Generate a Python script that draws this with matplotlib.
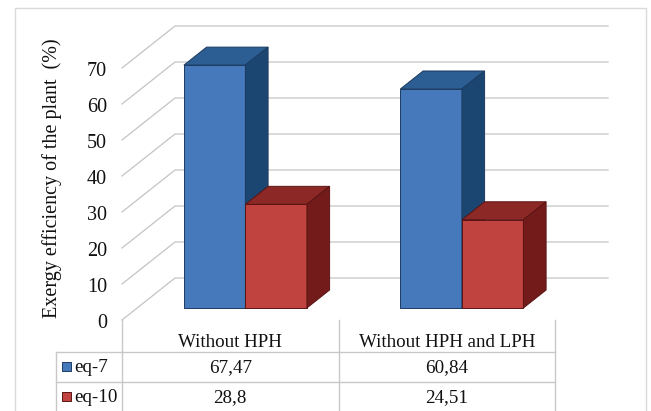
import matplotlib
matplotlib.use("Agg")
import matplotlib.pyplot as plt
from matplotlib.patches import Polygon, Rectangle

# ---- data ----
categories = ["Without HPH", "Without HPH and LPH"]
series_names = ["eq-7", "eq-10"]
eq7 = [67.47, 60.84]
eq10 = [28.8, 24.51]
y_ticks = [0, 10, 20, 30, 40, 50, 60, 70]
y_label = "Exergy efficiency of the plant  (%)"

plt.rcParams["font.family"] = ["Liberation Serif", "DejaVu Serif"]

W, H = 651, 411
fig = plt.figure(figsize=(W / 100, H / 100), dpi=100)

# overlay in pixel units for the frame and the data table
ov = fig.add_axes([0, 0, 1, 1])
ov.set_xlim(0, W)
ov.set_ylim(H, 0)
ov.axis("off")

# front plane of the 3-D plot area
ax = fig.add_axes([122 / W, 1 - 320 / H, 433 / W, 288 / H])
ax.set_xlim(-0.5, 1.5)
ax.set_ylim(0, 80)
ax.axis("off")

px_x = 433 / 2.0
px_y = 288 / 80.0
dep_x = 53 / px_x        # floor depth in data units
dep_y = 42 / px_y
f_front, f_back = 0.286, 0.714
bar_w = 61.5 / px_x

AX_FS = 14.5
TAB_FS = 13.7
TXT_C = "#111111"

grid_c = "#c4c4c4"
for v in y_ticks:
    ax.plot([-0.5, -0.5 + dep_x, 1.5 + dep_x], [v, v + dep_y, v + dep_y],
            color=grid_c, lw=0.9, clip_on=False, zorder=1)
    ax.annotate(str(v), xy=(-0.5, v), xytext=(-15, -3), textcoords="offset pixels",
                ha="right", va="center", fontsize=AX_FS, color=TXT_C)

styles = {
    "eq-7": dict(front="#4579bb", top="#2c5d93", side="#1c4672", edge="#1d3b61"),
    "eq-10": dict(front="#c0433f", top="#8c2826", side="#721b1a", edge="#5a1413"),
}


def draw_bar(x0, x1, v, st, z):
    ox, oy = f_front * dep_x, f_front * dep_y
    bx, by = (f_back - f_front) * dep_x, (f_back - f_front) * dep_y
    X0, X1 = x0 + ox, x1 + ox
    Y0, Y1 = oy, v + oy
    faces = [
        ([(X0, Y0), (X1, Y0), (X1, Y1), (X0, Y1)], st["front"]),
        ([(X0, Y1), (X1, Y1), (X1 + bx, Y1 + by), (X0 + bx, Y1 + by)], st["top"]),
        ([(X1, Y0), (X1 + bx, Y0 + by), (X1 + bx, Y1 + by), (X1, Y1)], st["side"]),
    ]
    for pts, col in faces:
        ax.add_patch(Polygon(pts, closed=True, facecolor=col, edgecolor=st["edge"],
                             lw=0.7, clip_on=False, zorder=z, joinstyle="miter"))


z = 3
for i in range(len(categories)):
    draw_bar(i - bar_w, i, eq7[i], styles["eq-7"], z)
    draw_bar(i, i + bar_w, eq10[i], styles["eq-10"], z + 1)
    z += 2

# ---- frame ----
ov.add_patch(Rectangle((14.5, 8.5), 631, 420, fill=False, edgecolor="#d9d9d9", lw=1.0))

# ---- data table ----
def to_px(x):
    return ax.transData.transform((x, 0))[0]


edges = [to_px(i - 0.5) for i in range(len(categories))] + [to_px(len(categories) - 0.5)]
tab_c = "#c8c8c8"
leg_left = 55.5
row_tops = [351.5, 381.5]
for e in edges:
    ov.plot([e, e], [320, H], color=tab_c, lw=1.0)
ov.plot([leg_left, leg_left], [row_tops[0], H], color=tab_c, lw=1.0)
for r in row_tops:
    ov.plot([leg_left, edges[-1]], [r, r], color=tab_c, lw=1.0)


def fmt(v):
    return format(v, "g").replace(".", ",")


for i, cat in enumerate(categories):
    cx = (edges[i] + edges[i + 1]) / 2
    ov.text(cx, 347, cat, ha="center", va="baseline", fontsize=TAB_FS, color=TXT_C)
    ov.text(cx, 372, fmt(eq7[i]), ha="center", va="baseline", fontsize=TAB_FS, color=TXT_C)
    ov.text(cx, 402, fmt(eq10[i]), ha="center", va="baseline", fontsize=TAB_FS, color=TXT_C)

for name, base in zip(series_names, [372, 402]):
    st = styles[name]
    ov.add_patch(Rectangle((62, base - 10.5), 9, 9, facecolor=st["front"], edgecolor=st["edge"], lw=0.7))
    ov.text(74, base, name, ha="left", va="baseline", fontsize=TAB_FS, color=TXT_C)

ov.text(52, 178, y_label, rotation=90, ha="center", va="center", fontsize=AX_FS, color=TXT_C)

fig.savefig("out.png", dpi=100)
